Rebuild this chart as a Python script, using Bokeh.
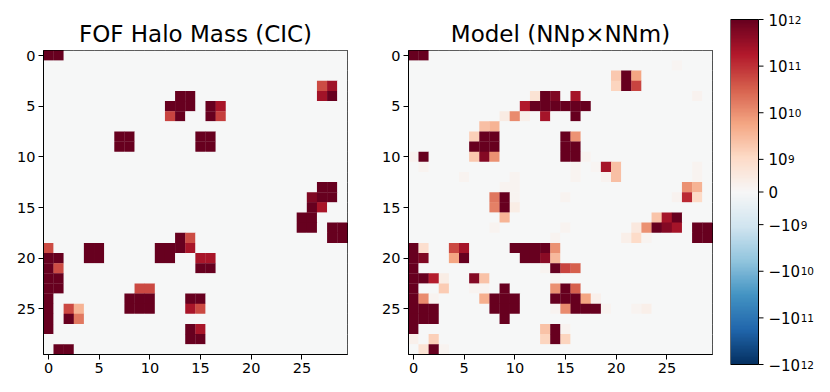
import numpy as np
from bokeh.plotting import figure
from bokeh.layouts import row, column
from bokeh.models import Range1d, FixedTicker, LinearColorMapper, ColumnDataSource
from bokeh.core.properties import value
from bokeh.transform import linear_cmap
from bokeh.embed import file_html
from bokeh.resources import INLINE

# ---------------- data (log10 of halo mass per grid cell; empty cells are 0) -------------
N = 30
D = 12.3  # saturated cells (>= 1e12)

fof_rows = [0, 0,
            3, 3,
            4, 4, 4, 4,
            5, 5, 5, 5, 5,
            6, 6, 6, 6,
            8, 8, 8, 8,
            9, 9, 9, 9,
            13, 13,
            14, 14, 14,
            15, 15,
            16, 16,
            17, 17, 17, 17,
            18, 18, 18, 18,
            19, 19, 19, 19, 19, 19, 19,
            20, 20, 20, 20, 20, 20, 20, 20,
            21, 21, 21, 21,
            22, 22,
            23, 23, 23, 23,
            24, 24, 24, 24, 24, 24,
            25, 25, 25, 25, 25, 25, 25, 25,
            26, 26, 26,
            27, 27, 27,
            28, 28,
            29, 29]
fof_cols = [0, 1,
            27, 28,
            13, 14, 27, 28,
            12, 13, 14, 16, 17,
            12, 13, 16, 17,
            7, 8, 15, 16,
            7, 8, 15, 16,
            27, 28,
            26, 27, 28,
            26, 27,
            25, 26,
            25, 26, 28, 29,
            13, 14, 28, 29,
            0, 4, 5, 11, 12, 13, 14,
            0, 1, 4, 5, 11, 12, 15, 16,
            0, 1, 15, 16,
            0, 1,
            0, 1, 9, 10,
            0, 8, 9, 10, 14, 15,
            0, 2, 3, 8, 9, 10, 14, 15,
            0, 2, 3,
            0, 14, 15,
            14, 15,
            1, 2]
fof_logm = [D, D,
            10.7, 11.45,
            D, D, 11.4, D,
            D, D, D, D, 11.35,
            10.8, D, D, 10.85,
            D, D, D, D,
            D, D, D, D,
            D, D,
            11.75, D, D,
            D, 11.35,
            D, D,
            D, D, D, D,
            D, 10.7, D, D,
            10.7, D, D, D, D, D, 11.35,
            D, D, D, D, D, D, 11.35, 11.35,
            D, 10.7, D, D,
            D, D,
            D, D, 10.75, 10.75,
            D, D, D, D, D, D,
            D, 10.75, 9.6, D, D, D, 11.35, 10.75,
            D, D, 10.25,
            D, D, 11.35,
            D, D,
            D, D]

model_rows = [0, 0,
              1,
              2, 2, 2,
              3, 3, 3,
              4, 4, 4, 4, 4,
              5, 5, 5, 5, 5, 5, 5,
              6, 6, 6, 6, 6,
              7, 7,
              8, 8, 8, 8, 8,
              9, 9, 9, 9, 9,
              10, 10, 10, 10, 10, 10, 10, 10,
              11, 11, 11, 11, 11, 11,
              12, 12, 12, 12, 12, 12,
              13, 13, 13, 13,
              14, 14, 14, 14, 14, 14, 14,
              15, 15, 15,
              16, 16, 16, 16,
              17, 17, 17, 17, 17, 17, 17, 17, 17,
              18, 18, 18, 18, 18, 18,
              19, 19, 19, 19, 19, 19, 19, 19, 19,
              20, 20, 20, 20, 20, 20, 20, 20,
              21, 21, 21, 21, 21,
              22, 22, 22, 22, 22, 22, 22,
              23, 23, 23, 23, 23, 23, 23, 23,
              24, 24, 24, 24, 24, 24, 24, 24, 24, 24, 24, 24,
              25, 25, 25, 25, 25, 25, 25, 25, 25, 25, 25, 25, 25, 25,
              26, 26, 26, 26,
              27, 27, 27, 27,
              28, 28, 28, 28, 28,
              29, 29, 29]
model_cols = [0, 1,
              26,
              20, 21, 22,
              20, 21, 22,
              12, 13, 14, 16, 28,
              11, 12, 13, 14, 15, 16, 17,
              9, 10, 11, 13, 16,
              7, 8,
              6, 7, 8, 15, 16,
              6, 7, 8, 15, 16,
              0, 1, 6, 7, 8, 15, 16, 17,
              1, 16, 18, 19, 20, 28,
              5, 10, 16, 19, 20, 28,
              9, 10, 27, 28,
              8, 9, 10, 15, 26, 27, 28,
              8, 9, 10,
              9, 24, 25, 26,
              8, 15, 22, 23, 24, 25, 26, 28, 29,
              14, 21, 22, 23, 28, 29,
              0, 1, 4, 5, 10, 11, 12, 13, 14,
              0, 1, 4, 5, 11, 12, 13, 14,
              0, 13, 14, 15, 16,
              0, 1, 2, 3, 6, 7, 14,
              0, 3, 6, 7, 9, 14, 15, 16,
              0, 1, 2, 7, 8, 9, 10, 14, 15, 16, 17, 18,
              0, 1, 2, 8, 9, 10, 14, 15, 16, 17, 18, 19, 22, 23,
              0, 1, 2, 9,
              0, 13, 14, 15,
              0, 2, 13, 14, 15,
              1, 2, 3]
model_logm = [D, D,
              8.0,
              9.29, D, 9.75,
              9.12, D, 10.8,
              8.88, D, 11.75, 11.39, 8.3,
              11.26, D, D, D, D, D, D,
              8.62, 10.05, 8.5, 11.39, D,
              9.4, 9.6,
              9.19, D, D, D, 9.95,
              D, D, D, D, D,
              8.3, D, 9.3, 11.7, 10.0, D, D, 8.2,
              8.2, 8.2, 8.0, 11.39, 9.4, 8.1,
              8.2, 8.2, 8.1, 8.3, 9.4, 8.2,
              8.1, 8.2, 10.0, 9.6,
              10.27, D, 8.2, 8.2, 8.3, 11.1, 9.05,
              10.15, D, 8.6,
              9.56, 9.35, 11.39, D,
              8.1, 8.1, 8.76, 10.0, D, 11.7, 11.39, D, D,
              8.1, 8.5, 9.0, 8.2, D, D,
              D, 8.94, 10.75, 11.39, D, D, D, D, 10.0,
              D, 11.75, 9.75, D, D, D, 11.65, 9.5,
              D, 8.2, D, 10.8, 10.5,
              D, D, 11.2, 8.6, 11.7, 9.38, 8.2,
              D, 9.25, 8.1, 8.2, D, 10.0, D, 10.5,
              D, 10.05, 8.2, 9.63, D, D, D, D, D, D, 9.75, 8.4,
              D, D, D, D, D, D, 8.2, 10.05, D, D, D, 8.2, 8.1, 8.5,
              D, D, D, D,
              D, 9.38, D, 8.3,
              8.4, 9.19, 9.12, D, 9.12,
              8.88, D, 8.1]

tick_positions = [0, 5, 10, 15, 20, 25]
cbar_tick_values = [-1e12, -1e11, -1e10, -1e9, 0.0, 1e9, 1e10, 1e11, 1e12]
cbar_tick_bases = ["\u221210", "\u221210", "\u221210", "\u221210", "0", "10", "10", "10", "10"]
cbar_tick_exps = ["12", "11", "10", "9", "", "9", "10", "11", "12"]
titles = ["FOF Halo Mass (CIC)", "Model (NNp\u00d7NNm)"]

# ---------------- symmetric-log colour normalisation ----------------
LINTHRESH = 1e9
LINSCALE = 0.7     # decades covered by the linear half-range
VMAX = 1e12


def symlog(v):
    v = np.asarray(v, dtype=float)
    a = np.abs(v)
    out = np.where(a <= LINTHRESH, a / LINTHRESH * LINSCALE,
                   LINSCALE + np.log10(np.maximum(a, LINTHRESH) / LINTHRESH))
    return np.sign(v) * out


TMAX = float(symlog(VMAX))

anchors = ['#053061', '#2166ac', '#4393c3', '#92c5de', '#d1e5f0', '#f7f7f7',
           '#fddbc7', '#f4a582', '#d6604d', '#b2182b', '#67001f']
argb = np.array([[int(h[i:i + 2], 16) for i in (1, 3, 5)] for h in anchors], dtype=float)
pos = np.linspace(0, 1, len(anchors))
ss = np.linspace(0, 1, 256)
palette = ['#%02x%02x%02x' % tuple(int(round(np.interp(s, pos, argb[:, k]))) for k in range(3)) for s in ss]

FONT = "DejaVu Sans"
LABEL_SIZE = 14.5


def grid_values(rows, cols, logm):
    g = np.zeros((N, N))
    for r, c, m in zip(rows, cols, logm):
        g[r, c] = 10.0 ** m
    return g


def style_axis(ax):
    ax.ticker = FixedTicker(ticks=tick_positions)
    ax.major_tick_out = 5
    ax.major_tick_in = 0
    ax.minor_tick_line_color = None
    ax.axis_line_color = "black"
    ax.major_tick_line_color = "black"
    ax.major_label_text_font = FONT
    ax.major_label_text_font_size = "%gpx" % LABEL_SIZE
    ax.major_label_text_color = "black"
    ax.major_label_standoff = 3


def heatmap(values, title, left_border, right_border):
    p = figure(frame_width=304, frame_height=304,
               min_border_left=left_border, min_border_right=right_border,
               min_border_top=50, min_border_bottom=30,
               x_range=Range1d(-0.5, N - 0.5), y_range=Range1d(N - 0.5, -0.5),
               output_backend="svg", toolbar_location=None, tools="")
    rr, cc = np.meshgrid(np.arange(N), np.arange(N), indexing="ij")
    src = ColumnDataSource(dict(x=cc.ravel(), y=rr.ravel(), t=symlog(values).ravel()))
    cmap = linear_cmap("t", palette, -TMAX, TMAX)
    p.rect(x="x", y="y", width=1.03, height=1.03, source=src,
           fill_color=cmap, line_color=None)
    p.grid.visible = False
    p.background_fill_color = "#f7f7f7"
    p.outline_line_color = "black"
    p.outline_line_width = 1
    p.outline_line_alpha = 1
    style_axis(p.xaxis[0])
    style_axis(p.yaxis[0])
    p.title.text = title
    p.title.align = "center"
    p.title.text_font = FONT
    p.title.text_font_size = "23px"
    p.title.text_font_style = "normal"
    p.title.text_color = "black"
    p.title.standoff = 8
    return p


p1 = heatmap(grid_values(fof_rows, fof_cols, fof_logm), titles[0], 43, 20)
p2 = heatmap(grid_values(model_rows, model_cols, model_logm), titles[1], 41, 5)

# ---------------- colour bar (its own small plot, one unit = bar width) ----------------
BAR_W, BAR_H = 28, 345                 # pixel size of the bar
PX_PER_UNIT_Y = BAR_H / (2 * TMAX)
PAD = 10 / PX_PER_UNIT_Y               # room for labels above / below the bar
FRAME_W = 93
p3 = figure(frame_width=FRAME_W, frame_height=BAR_H + 20,
            min_border_left=13, min_border_right=2, min_border_top=9, min_border_bottom=10,
            x_range=Range1d(0, FRAME_W / BAR_W), y_range=Range1d(-TMAX - PAD, TMAX + PAD),
            x_axis_location=None, y_axis_location=None,
            output_backend="svg", toolbar_location=None, tools="")
p3.outline_line_color = None
p3.grid.visible = False
mapper = LinearColorMapper(palette=palette, low=-TMAX, high=TMAX)
grad = np.linspace(-TMAX, TMAX, 256).reshape(256, 1)
p3.image(image=[grad], x=0, y=-TMAX, dw=1, dh=2 * TMAX, color_mapper=mapper)
p3.rect(x=0.5, y=0, width=1, height=2 * TMAX, fill_color=None, line_color="black", line_width=1)

tpos = [float(v) for v in symlog(cbar_tick_values)]
p3.segment(x0=[1.0] * len(tpos), x1=[1.0 + 5 / BAR_W] * len(tpos), y0=tpos, y1=tpos,
           line_color="black", line_width=1)

CB_SIZE = 15.0
SUP_SIZE = 10.5
adv = {"\u221210": (0.838 + 1.272) * CB_SIZE, "10": 1.272 * CB_SIZE, "0": 0.636 * CB_SIZE}
p3.text(x=[1.0] * len(tpos), y=tpos, text=cbar_tick_bases, x_offset=10,
        text_font=value(FONT), text_font_size=value("%gpx" % CB_SIZE), text_color="black",
        text_align="left", text_baseline="middle")
sup_src = ColumnDataSource(dict(
    x=[1.0] * len(tpos), y=tpos, text=cbar_tick_exps,
    xo=[10 + adv[b] + 0.5 for b in cbar_tick_bases]))
p3.text(x="x", y="y", text="text", x_offset="xo", source=sup_src,
        text_font=value(FONT), text_font_size=value("%gpx" % SUP_SIZE), text_color="black",
        text_align="left", text_baseline="alphabetic")

layout = row(p1, p2, column(p3), spacing=0)
open("out.html", "w").write(file_html(layout, INLINE))
